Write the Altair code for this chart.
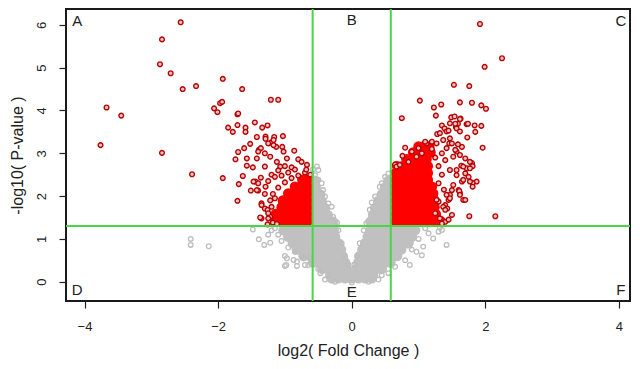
import altair as alt
import pandas as pd

# ---------------- data (log2 fold change, -log10 p) ----------------
# scattered significant genes (red, outlined)
red_x = [-2.56, -2.84, -2.87, -2.71, -2.53, -2.33, -1.93, -1.64, -1.21, -1.10, -3.67, -3.45, -3.76, -2.84,
         -2.39, -1.93, -1.71, -2.06, -2.01, -1.97, -1.94, -1.71, -1.70, -1.85, -1.78, -1.71, -1.59, -1.59,
         -1.45, -1.34, -1.26, -1.42, -1.52, -1.61, -1.70, -1.74, -1.57, -1.39, -1.29, -1.16, -1.03, -1.21,
         -1.13, -1.04, -0.86, -1.57, -1.48, -1.63, -1.69, -1.51, -1.44, -1.36, -1.40, -1.29, -1.35, -1.30,
         -1.35, -1.26, -1.26, -1.22, -0.80, -0.75, -0.67, -1.29, -1.17, -1.36, -1.25, -1.17, -1.02, -1.40,
         -1.30, -1.42, -1.22, -0.97, -1.30, -1.12, -1.07, -0.90, -1.42, -1.40, -1.35, -1.37, -1.25, -1.47,
         -0.62, -0.70, -0.80, -0.90, -1.00, -1.10, -1.15, -1.20, -1.25, -1.18, -0.95, -0.68, -1.05, -1.18,
         -1.12, -1.20, -1.25, -1.10, -0.85, -1.00, -1.15, -1.30, -1.22,
         1.92, 2.25, 1.99, 1.53, 1.76, 1.02, 1.23, 1.34, 1.62, 1.80, 1.94, 2.01, 0.75, 1.26, 1.49, 1.54,
         1.63, 1.59, 1.56, 1.72, 1.84, 1.94, 1.35, 1.39, 1.42, 1.57, 1.28, 1.32, 1.73, 1.96, 0.80, 0.90,
         0.65, 0.67, 1.80, 1.72, 1.64, 1.70, 1.75, 1.87, 1.81, 1.65, 1.60, 1.62, 1.67, 1.70, 1.76, 2.15,
         1.50, 1.45, 1.40, 1.43, 1.47, 1.52, 1.57, 1.47, 1.40, 1.52, 1.57, 1.65, 1.46, 1.37, 1.42, 1.35,
         1.27, 1.20, 1.12, 1.47, 1.55, 1.62, 1.74, 1.45, 1.62, 1.85, 1.47, 1.50, 1.59, 1.55, 1.62, 1.70,
         1.77, 1.81, 0.76, 1.10, 1.00, 1.05, 0.97, 0.72, 0.85, 1.57, 1.67, 1.77, 1.67, 1.77, 1.81, 1.50,
         1.61, 1.62, 1.42, 1.47, 1.30, 1.37, 1.40, 1.25, 1.32, 1.40, 1.27, 1.30, 1.35, 1.30, 1.25, 1.20,
         1.38, 1.35, 1.45]
red_y = [6.06, 5.66, 5.08, 4.87, 4.50, 4.57, 4.74, 4.50, 4.25, 4.25, 4.07, 3.88, 3.19, 3.01,
         2.51, 2.42, 1.89, 4.05, 3.96, 4.17, 4.20, 3.91, 3.93, 3.60, 3.50, 3.66, 3.60, 3.50,
         3.72, 3.60, 3.65, 3.38, 3.22, 3.12, 3.03, 2.86, 2.88, 3.08, 3.39, 3.38, 3.40, 3.25,
         3.15, 3.15, 3.06, 2.71, 2.67, 2.47, 2.28, 2.13, 2.34, 2.43, 2.13, 2.22, 1.83, 1.71,
         1.48, 1.68, 1.34, 1.52, 2.86, 2.80, 2.73, 3.34, 3.31, 3.12, 3.23, 3.19, 3.04, 3.04,
         3.00, 2.88, 2.92, 2.88, 2.69, 2.80, 2.69, 2.67, 2.14, 2.30, 1.79, 1.50, 1.48, 2.34,
         2.50, 2.55, 2.48, 2.42, 2.32, 2.20, 1.95, 1.75, 1.60, 1.38, 2.55, 2.62, 2.48, 2.05,
         1.35, 2.50, 2.35, 2.60, 2.62, 2.70, 2.45, 2.05, 1.90,
         6.02, 5.22, 5.02, 4.60, 4.57, 4.23, 4.07, 4.14, 4.19, 4.18, 4.12, 4.04, 3.82, 3.88, 3.84, 3.86,
         3.81, 3.69, 3.62, 3.68, 3.65, 3.64, 3.65, 3.58, 3.51, 3.58, 3.45, 3.47, 3.37, 3.13, 3.13, 3.04,
         2.74, 2.69, 2.77, 2.65, 2.71, 2.53, 2.45, 2.34, 2.31, 2.34, 2.14, 2.07, 1.91, 1.91, 1.53, 1.53,
         1.56, 1.91, 1.79, 1.71, 2.03, 2.26, 2.49, 2.61, 2.84, 2.92, 3.04, 3.15, 3.23, 3.31, 3.12, 3.00,
         3.23, 3.27, 3.23, 3.70, 3.69, 3.80, 3.69, 3.53, 3.51, 3.50, 3.35, 3.23, 3.21, 3.08, 2.96, 2.88,
         2.80, 2.70, 2.94, 3.27, 3.12, 3.00, 2.92, 2.73, 2.80, 2.61, 2.69, 2.65, 2.38, 2.34, 2.22, 2.14,
         2.12, 2.03, 2.03, 1.95, 1.87, 1.75, 1.68, 1.60, 1.48, 1.40, 1.91, 2.30, 2.50, 2.70, 2.90, 3.10,
         2.15, 1.36, 1.45]

# dense significant cores (red, solid)
core_red_x = [-0.66, -0.76, -0.86, -0.96, -1.06, -1.15,
              -0.66, -0.76, -0.86, -0.96, -1.06, -1.14,
              -0.66, -0.76, -0.86, -0.96, -1.05,
              -0.66, -0.76, -0.86, -0.96, -1.03,
              -0.66, -0.76, -0.86, -0.95,
              -0.66, -0.76, -0.85,
              -0.66, -0.74,
              0.66, 0.76, 0.86, 0.96, 1.06, 1.16, 1.26, 1.33,
              0.66, 0.76, 0.86, 0.96, 1.06, 1.16, 1.26,
              0.66, 0.76, 0.86, 0.96, 1.06, 1.16, 1.24,
              0.66, 0.76, 0.86, 0.96, 1.06, 1.16, 1.24,
              0.66, 0.76, 0.86, 0.96, 1.06, 1.16, 1.22,
              0.66, 0.76, 0.86, 0.96, 1.06, 1.14, 1.20,
              0.66, 0.76, 0.86, 0.96, 1.06, 1.14,
              0.66, 0.76, 0.86, 0.96, 1.06, 1.14,
              0.68, 0.76, 0.86, 0.96, 1.06, 1.14,
              0.82, 0.92, 1.02, 1.12,
              0.92, 1.02, 1.12, 1.18,
              1.00, 1.08, 1.16]
core_red_y = [1.42, 1.42, 1.42, 1.42, 1.42, 1.42,
              1.58, 1.58, 1.58, 1.58, 1.58, 1.58,
              1.74, 1.74, 1.74, 1.74, 1.74,
              1.90, 1.90, 1.90, 1.90, 1.90,
              2.06, 2.06, 2.06, 2.06,
              2.22, 2.22, 2.22,
              2.38, 2.38,
              1.42, 1.42, 1.42, 1.42, 1.42, 1.42, 1.42, 1.42,
              1.58, 1.58, 1.58, 1.58, 1.58, 1.58, 1.58,
              1.74, 1.74, 1.74, 1.74, 1.74, 1.74, 1.74,
              1.90, 1.90, 1.90, 1.90, 1.90, 1.90, 1.90,
              2.06, 2.06, 2.06, 2.06, 2.06, 2.06, 2.06,
              2.22, 2.22, 2.22, 2.22, 2.22, 2.22, 2.22,
              2.38, 2.38, 2.38, 2.38, 2.38, 2.38,
              2.54, 2.54, 2.54, 2.54, 2.54, 2.54,
              2.70, 2.70, 2.70, 2.70, 2.70, 2.70,
              2.86, 2.86, 2.86, 2.86,
              3.02, 3.02, 3.02, 3.02,
              3.16, 3.16, 3.16]

# dense non-significant cloud (grey, solid)
core_grey_x = [-1.02, -0.92, -0.82, -0.72, -0.62, -0.52, -0.42, -0.32, -0.27,
               -0.95, -0.85, -0.75, -0.65, -0.55, -0.45, -0.35, -0.25,
               -0.88, -0.78, -0.68, -0.58, -0.48, -0.38, -0.28, -0.20,
               -0.82, -0.72, -0.62, -0.52, -0.42, -0.32, -0.22, -0.16,
               -0.72, -0.62, -0.52, -0.42, -0.32, -0.22, -0.14,
               -0.58, -0.48, -0.38, -0.28, -0.18, -0.10,
               -0.44, -0.34, -0.24, -0.14, -0.07,
               -0.32, -0.22, -0.12, -0.05,
               -0.30, -0.20, -0.10, 0.00, 0.10, 0.20, 0.30,
               -0.55, -0.45, -0.35, -0.28,
               -0.55, -0.45, -0.36,
               -0.55, -0.46, -0.40,
               -0.55, -0.45,
               -0.54, -0.47,
               -0.54, -0.55,
               0.28, 0.38, 0.48, 0.58, 0.68, 0.78, 0.88, 0.95,
               0.24, 0.34, 0.44, 0.54, 0.64, 0.74, 0.84, 0.90,
               0.20, 0.30, 0.40, 0.50, 0.60, 0.70, 0.80, 0.85,
               0.16, 0.26, 0.36, 0.46, 0.56, 0.66, 0.74,
               0.12, 0.22, 0.32, 0.42, 0.52, 0.62, 0.68,
               0.10, 0.20, 0.30, 0.40, 0.50, 0.58,
               0.07, 0.17, 0.27, 0.37, 0.45,
               0.05, 0.15, 0.25, 0.32,
               0.28, 0.38, 0.48, 0.55,
               0.32, 0.42, 0.52, 0.55,
               0.35, 0.45, 0.54,
               0.40, 0.50, 0.55,
               0.45, 0.54,
               0.50, 0.55,
               0.55]
core_grey_y = [1.20, 1.20, 1.20, 1.20, 1.20, 1.20, 1.20, 1.20, 1.20,
               1.05, 1.05, 1.05, 1.05, 1.05, 1.05, 1.05, 1.05,
               0.90, 0.90, 0.90, 0.90, 0.90, 0.90, 0.90, 0.90,
               0.75, 0.75, 0.75, 0.75, 0.75, 0.75, 0.75, 0.75,
               0.60, 0.60, 0.60, 0.60, 0.60, 0.60, 0.60,
               0.45, 0.45, 0.45, 0.45, 0.45, 0.45,
               0.30, 0.30, 0.30, 0.30, 0.30,
               0.16, 0.16, 0.16, 0.16,
               0.08, 0.08, 0.08, 0.08, 0.08, 0.08, 0.08,
               1.40, 1.40, 1.40, 1.40,
               1.56, 1.56, 1.56,
               1.72, 1.72, 1.72,
               1.88, 1.88,
               2.04, 2.04,
               2.20, 2.36,
               1.20, 1.20, 1.20, 1.20, 1.20, 1.20, 1.20, 1.20,
               1.05, 1.05, 1.05, 1.05, 1.05, 1.05, 1.05, 1.05,
               0.90, 0.90, 0.90, 0.90, 0.90, 0.90, 0.90, 0.90,
               0.75, 0.75, 0.75, 0.75, 0.75, 0.75, 0.75,
               0.60, 0.60, 0.60, 0.60, 0.60, 0.60, 0.60,
               0.45, 0.45, 0.45, 0.45, 0.45, 0.45,
               0.30, 0.30, 0.30, 0.30, 0.30,
               0.16, 0.16, 0.16, 0.16,
               1.40, 1.40, 1.40, 1.40,
               1.56, 1.56, 1.56, 1.56,
               1.72, 1.72, 1.72,
               1.88, 1.88, 1.88,
               2.04, 2.04,
               2.20, 2.20,
               2.36]

# scattered non-significant genes (grey, outlined)
grey_x = [-2.41, -2.41, -2.14, -1.48, -1.39, -1.31, -1.22, -1.00, -0.98, -0.82, -0.70, -0.64, -0.97,
          -1.00, -0.87, -0.82, -0.72, -0.65, -0.47, -1.15, -1.10, -1.05, -0.95, -0.85, -0.75, -0.60,
          -0.50, -0.35, -1.20, -1.25,
          -0.52, -0.50, -0.55, -0.50, -0.45, -0.43, -0.40, -0.35, -0.30, -0.28, -0.22, -0.58,
          1.15, 1.22, 1.30, 1.35, 1.07, 1.05, 0.97, 1.42, 0.87, 1.32, 1.10, 1.00, 0.90, 0.80, 0.65, 0.45,
          0.55, 0.50, 0.45, 0.42, 0.35, 0.27, 0.22, 0.30,
          -0.20, -0.15, -0.10, -0.05, 0.18, 0.12, 0.08, 0.04,
          -0.40, -0.25, 0.00, 0.25, 0.40, 0.55]
grey_y = [1.00, 0.86, 0.83, 1.22, 0.99, 0.86, 0.91, 0.60, 0.39, 0.47, 0.39, 0.58, 0.55,
          0.37, 0.51, 0.37, 0.55, 0.39, 0.20, 1.25, 1.10, 0.95, 0.80, 0.70, 0.60, 0.45,
          0.30, 0.15, 1.20, 1.10,
          2.69, 2.61, 2.49, 2.38, 2.30, 2.14, 1.99, 1.83, 1.75, 1.52, 1.38, 2.62,
          1.13, 1.01, 1.17, 1.21, 0.82, 0.62, 0.70, 0.86, 0.39, 1.27, 1.25, 1.00, 0.75, 0.50, 0.35, 0.15,
          2.53, 2.45, 2.30, 2.22, 1.99, 1.68, 1.36, 1.85,
          1.20, 0.90, 0.60, 0.40, 1.20, 0.90, 0.60, 0.40,
          0.05, 0.00, -0.02, 0.00, 0.05, 0.20]

# thresholds and region labels
fc_cut = [-0.585, 0.585]
p_cut = [1.301]
region_names = ["A", "B", "C", "D", "E", "F"]
region_x = [-4.11, 0.0, 4.03, -4.11, 0.0, 4.03]
region_y = [6.09, 6.11, 6.09, -0.19, -0.24, -0.19]

x_ticks = [-4, -2, 0, 2, 4]
y_ticks = [0, 1, 2, 3, 4, 5, 6]

# ---------------- chart ----------------
FONT = "Liberation Sans"
X_DOM = [-4.277, 4.166]
Y_DOM = [-0.45, 6.37]


def xenc(field="x"):
    return alt.X(f"{field}:Q",
                 scale=alt.Scale(domain=X_DOM, nice=False, zero=False),
                 axis=alt.Axis(values=x_ticks, title="log2( Fold Change )", grid=False, domain=False,
                               tickSize=7, tickColor="#222", tickWidth=1.2, labelFont=FONT,
                               labelFontSize=13, labelColor="#222", labelPadding=12,
                               titleFont=FONT, titleFontSize=16, titleFontWeight="normal",
                               titleColor="#222", titlePadding=9))


def yenc(field="y"):
    return alt.Y(f"{field}:Q",
                 scale=alt.Scale(domain=Y_DOM, nice=False, zero=False),
                 axis=alt.Axis(values=y_ticks, title="-log10( P-value )", grid=False, domain=False,
                               tickSize=7, tickColor="#222", tickWidth=1.2, labelFont=FONT,
                               labelFontSize=13, labelColor="#222", labelPadding=11,
                               labelAngle=270, labelAlign="center", labelBaseline="bottom",
                               titleFont=FONT, titleFontSize=16, titleFontWeight="normal",
                               titleColor="#222", titlePadding=10))


df_core_grey = pd.DataFrame({"x": core_grey_x, "y": core_grey_y})
df_grey = pd.DataFrame({"x": grey_x, "y": grey_y})
df_core_red = pd.DataFrame({"x": core_red_x, "y": core_red_y})
df_red = pd.DataFrame({"x": red_x, "y": red_y})
df_v = pd.DataFrame({"x": fc_cut})
df_h = pd.DataFrame({"y": p_cut})
df_lab = pd.DataFrame({"x": region_x, "y": region_y, "t": region_names})

core_grey = alt.Chart(df_core_grey).mark_circle(size=110, color="#c0c0c0", opacity=1).encode(x=xenc(), y=yenc())
grey_pts = alt.Chart(df_grey).mark_point(filled=False, size=22, color="#bdbdbd", strokeWidth=1.3,
                                        opacity=1).encode(x=xenc(), y=yenc())
core_red = alt.Chart(df_core_red).mark_circle(size=110, color="#ff0000", opacity=1).encode(x=xenc(), y=yenc())
red_pts = alt.Chart(df_red).mark_point(filled=True, size=22, fill="#f4c4c4", stroke="#b80000",
                                      strokeWidth=1.4, opacity=1).encode(x=xenc(), y=yenc())
vrules = alt.Chart(df_v).mark_rule(color="#47d647", strokeWidth=2).encode(x=xenc())
hrule = alt.Chart(df_h).mark_rule(color="#47d647", strokeWidth=2).encode(y=yenc())
labels = alt.Chart(df_lab).mark_text(font=FONT, fontSize=15, color="#222", baseline="middle",
                                     align="center").encode(x=xenc(), y=yenc(), text="t:N")

chart = alt.layer(core_grey, grey_pts, core_red, red_pts, vrules, hrule, labels).properties(
    width=564, height=292,
    autosize=alt.AutoSizeParams(type="none"),
    padding={"left": 58, "top": 1, "right": 2, "bottom": 60},
    background="white",
).configure_view(stroke="#1a1a1a", strokeWidth=2)

chart.save("out.html", embed_options={"renderer": "svg", "actions": False})
